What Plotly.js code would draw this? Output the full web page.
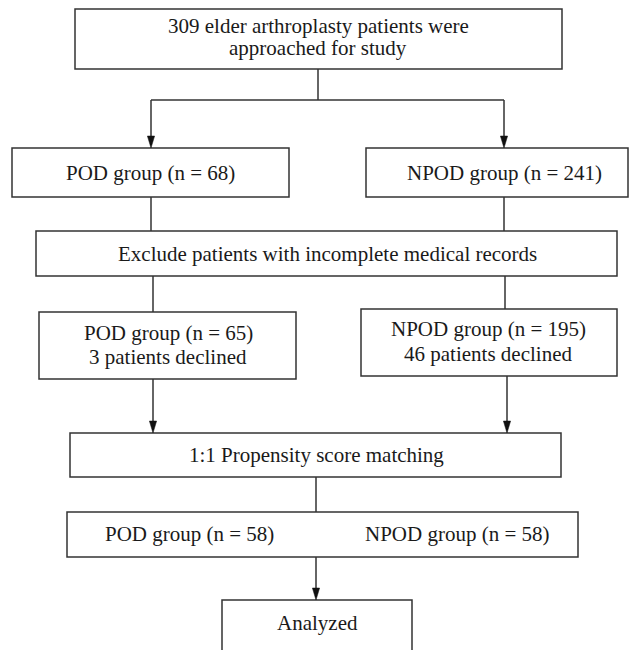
<!DOCTYPE html>
<html>
<head>
<meta charset="utf-8">
<script src="https://cdn.plot.ly/plotly-3.0.1.min.js"></script>
<style>html,body{margin:0;padding:0;background:#fff;}#chart{width:629px;height:650px;}</style>
</head>
<body>
<div id="chart"></div>
<script>
// ---- data ----
const totalApproached = 309;
const groupNames = ['POD group', 'NPOD group'];
const initialN = [68, 241];
const afterExclusionN = [65, 195];
const declinedN = [3, 46];
const matchedN = [58, 58];
const exclusionText = 'Exclude patients with incomplete medical records';
const matchingText = '1:1 Propensity score matching';
const finalText = 'Analyzed';

// ---- layout geometry (pixels) ----
const boxes = [
  {x0: 75, x1: 562, y0: 9, y1: 69, lines: [totalApproached + ' elder arthroplasty patients were', 'approached for study'], tx: 318, ty: [26, 48]},
  {x0: 12, x1: 289, y0: 148, y1: 197, lines: [groupNames[0] + ' (n = ' + initialN[0] + ')'], tx: 150, ty: [173]},
  {x0: 366, x1: 628, y0: 148, y1: 197, lines: [groupNames[1] + ' (n = ' + initialN[1] + ')'], tx: 504, ty: [173]},
  {x0: 36, x1: 617, y0: 231, y1: 276, lines: [exclusionText], tx: 327, ty: [254]},
  {x0: 39, x1: 296, y0: 312, y1: 379, lines: [groupNames[0] + ' (n = ' + afterExclusionN[0] + ')', declinedN[0] + ' patients declined'], tx: 168, ty: [333, 357]},
  {x0: 361, x1: 617, y0: 309, y1: 376, lines: [groupNames[1] + ' (n = ' + afterExclusionN[1] + ')', declinedN[1] + ' patients declined'], tx: 488, ty: [329, 354]},
  {x0: 70, x1: 561, y0: 433, y1: 477, lines: [matchingText], tx: 316, ty: [455]},
  {x0: 67, x1: 578, y0: 512, y1: 557, lines: [], tx: 0, ty: []},
  {x0: 222, x1: 412, y0: 600, y1: 700, lines: [finalText], tx: 317, ty: [623]}
];
const matchedLabels = [
  {text: groupNames[0] + ' (n = ' + matchedN[0] + ')', x: 189, y: 534},
  {text: groupNames[1] + ' (n = ' + matchedN[1] + ')', x: 457, y: 534}
];

const LC = '#333333';
const LW = 1.5;
const shapes = [];
const annotations = [];
const font = {family: '"Liberation Serif", "DejaVu Serif", serif', size: 21, color: '#1a1a1a'};

boxes.forEach(b => {
  shapes.push({type: 'rect', xref: 'x', yref: 'y', x0: b.x0, x1: b.x1, y0: b.y0, y1: b.y1,
    line: {color: LC, width: LW}, fillcolor: 'rgba(0,0,0,0)'});
  b.lines.forEach((t, i) => {
    annotations.push({x: b.tx, y: b.ty[i], xref: 'x', yref: 'y', text: t, showarrow: false,
      font: font, xanchor: 'center', yanchor: 'middle'});
  });
});
matchedLabels.forEach(m => annotations.push({x: m.x, y: m.y, xref: 'x', yref: 'y', text: m.text,
  showarrow: false, font: font, xanchor: 'center', yanchor: 'middle'}));

function line(x0, y0, x1, y1) {
  shapes.push({type: 'line', xref: 'x', yref: 'y', x0, y0, x1, y1, line: {color: LC, width: LW}});
}
function arrow(x, y0, y1) {
  const hl = 12, hw = 3.6;
  line(x, y0, x, y1 - hl + 1);
  shapes.push({type: 'path', xref: 'x', yref: 'y',
    path: `M ${x - hw} ${y1 - hl} L ${x + hw} ${y1 - hl} L ${x} ${y1} Z`,
    fillcolor: '#111', line: {color: '#111', width: 0.5}});
}

// top split
line(318, 69, 318, 100);
line(151, 100, 504, 100);
arrow(151, 100, 148);
arrow(504, 100, 148);
// to exclusion
line(151, 197, 151, 231);
line(504, 197, 504, 231);
// exclusion to groups
line(153, 276, 153, 312);
line(505, 276, 505, 309);
// groups to matching
arrow(153, 379, 433);
arrow(507, 376, 433);
// matching to matched
line(316, 477, 316, 512);
// matched to analyzed
arrow(316, 557, 600);

const layout = {
  width: 629, height: 650,
  margin: {l: 0, r: 0, t: 0, b: 0},
  paper_bgcolor: '#ffffff', plot_bgcolor: '#ffffff',
  xaxis: {range: [0, 629], visible: false, fixedrange: true},
  yaxis: {range: [650, 0], visible: false, fixedrange: true},
  showlegend: false,
  shapes: shapes,
  annotations: annotations
};
Plotly.newPlot('chart', [], layout, {displayModeBar: false, staticPlot: true});
</script>
</body>
</html>
